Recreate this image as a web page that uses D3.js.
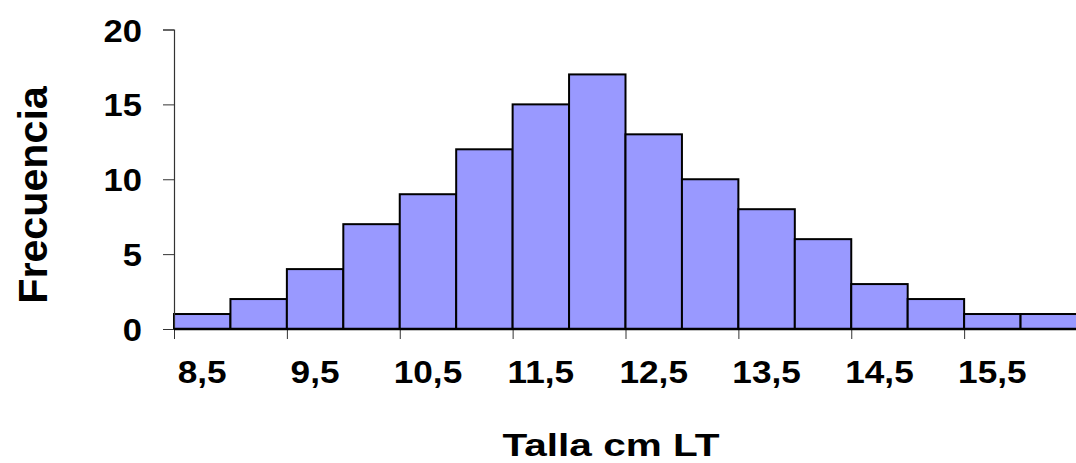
<!DOCTYPE html>
<html>
<head>
<meta charset="utf-8">
<script src="https://cdn.jsdelivr.net/npm/d3@7.9.0/dist/d3.min.js"></script>
<style>
  body { margin: 0; background: #fff; }
  svg text { font-family: "Liberation Sans", Arial, sans-serif; font-weight: bold; fill: #000; }
</style>
</head>
<body>
<svg id="chart" width="1076" height="463"></svg>
<script>
// bin centres (cm) and counts
const tallas = [8.5, 9, 9.5, 10, 10.5, 11, 11.5, 12, 12.5, 13, 13.5, 14, 14.5, 15, 15.5, 16];
const frecuencias = [1, 2, 4, 7, 9, 12, 15, 17, 13, 10, 8, 6, 3, 2, 1, 1];
const etiquetasX = [8.5, 9.5, 10.5, 11.5, 12.5, 13.5, 14.5, 15.5];
const ticksY = [0, 5, 10, 15, 20];

const svg = d3.select("#chart");
const plotLeft = 174, plotRight = 1077, plotTop = 29.5, plotBottom = 329;
const half = 0.25;

const x = d3.scaleLinear().domain([8.5 - half, 16 + half]).range([plotLeft, plotRight]);
const y = d3.scaleLinear().domain([0, 20]).range([plotBottom, plotTop]);
const coma = d3.formatLocale({ decimal: ",", thousands: ".", grouping: [3], currency: ["", ""] }).format(".1f");

// the original lettering is a bit wider than Arial, stretch it a little
function ensanchar(sel, k) {
  sel.each(function () {
    const w = this.getComputedTextLength();
    d3.select(this).attr("textLength", w * k).attr("lengthAdjust", "spacingAndGlyphs");
  });
}

// bars
svg.append("g").selectAll("rect")
  .data(tallas)
  .join("rect")
  .attr("x", d => x(d - half))
  .attr("y", (d, i) => y(frecuencias[i]))
  .attr("width", d => x(d + half) - x(d - half))
  .attr("height", (d, i) => y(0) - y(frecuencias[i]))
  .attr("fill", "#9999ff")
  .attr("stroke", "#000")
  .attr("stroke-width", 2);

// y axis
const yAxis = svg.append("g")
  .attr("transform", `translate(${plotLeft},0)`)
  .call(d3.axisLeft(y).tickValues(ticksY).tickSize(11).tickPadding(21));
yAxis.select(".domain").attr("stroke", "#333").attr("stroke-width", 1.2);
yAxis.selectAll(".tick line").attr("stroke", "#333");
yAxis.selectAll(".tick text").style("font-size", "32px").attr("dy", "0.36em").call(ensanchar, 1.08);

// x axis: tick marks on every other bin edge
const xAxis = svg.append("g")
  .attr("transform", `translate(0,${plotBottom})`)
  .call(d3.axisBottom(x).tickValues(etiquetasX.map(d => d - half)).tickSize(10).tickFormat(""));
xAxis.select(".domain").remove();
xAxis.selectAll(".tick line").attr("stroke", "#333");
svg.append("line")
  .attr("x1", plotLeft).attr("x2", plotRight)
  .attr("y1", plotBottom).attr("y2", plotBottom)
  .attr("stroke", "#000").attr("stroke-width", 2.5);

svg.append("g").selectAll("text")
  .data(etiquetasX)
  .join("text")
  .attr("x", d => x(d))
  .attr("y", 383)
  .attr("text-anchor", "middle")
  .style("font-size", "32px")
  .text(d => coma(d))
  .call(ensanchar, 1.1);

// axis titles
svg.append("text")
  .attr("transform", "translate(46.5,195) rotate(-90)")
  .attr("text-anchor", "middle")
  .style("font-size", "40px")
  .text("Frecuencia")
  .call(ensanchar, 1.03);

svg.append("text")
  .attr("x", 611).attr("y", 456)
  .attr("text-anchor", "middle")
  .style("font-size", "32px")
  .attr("textLength", 217)
  .attr("lengthAdjust", "spacingAndGlyphs")
  .text("Talla cm LT");
</script>
</body>
</html>
